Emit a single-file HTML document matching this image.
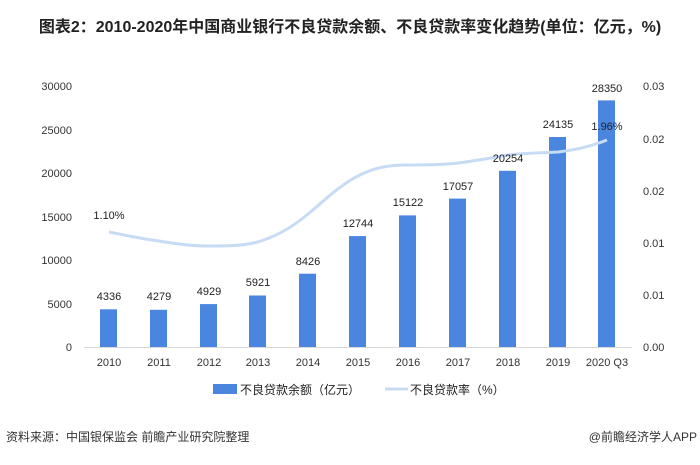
<!DOCTYPE html>
<html><head><meta charset="utf-8"><style>
body{margin:0;background:#fff;width:700px;height:460px;overflow:hidden;font-family:"Liberation Sans","Noto Sans CJK SC",sans-serif}
</style></head><body>
<svg width="700" height="460" xmlns="http://www.w3.org/2000/svg" font-family="Liberation Sans, Noto Sans CJK SC, sans-serif">
<text x="350" y="32" text-anchor="middle" font-size="16" font-weight="bold" fill="#222">图表2：2010-2020年中国商业银行不良贷款余额、不良贷款率变化趋势(单位：亿元，%)</text>
<g font-size="11" fill="#333" text-anchor="end">
<text x="72" y="351">0</text><text x="72" y="308">5000</text><text x="72" y="264">10000</text>
<text x="72" y="221">15000</text><text x="72" y="177">20000</text><text x="72" y="134">25000</text><text x="72" y="90">30000</text>
</g>
<g font-size="11" fill="#333">
<text x="643" y="351">0.00</text><text x="643" y="299">0.01</text><text x="643" y="247">0.01</text>
<text x="643" y="195">0.02</text><text x="643" y="143">0.02</text><text x="643" y="90">0.03</text>
</g>
<line x1="84" y1="347.5" x2="632" y2="347.5" stroke="#d9d9d9"/>
<g fill="#4a86e0">
<rect x="100" y="309.3" width="17" height="37.7"/>
<rect x="150" y="309.8" width="17" height="37.2"/>
<rect x="200" y="304.1" width="17" height="42.9"/>
<rect x="249" y="295.5" width="17" height="51.5"/>
<rect x="299" y="273.7" width="17" height="73.3"/>
<rect x="349" y="236.1" width="17" height="110.9"/>
<rect x="399" y="215.4" width="17" height="131.6"/>
<rect x="449" y="198.6" width="17" height="148.4"/>
<rect x="499" y="170.8" width="17" height="176.2"/>
<rect x="549" y="137.0" width="17" height="210.0"/>
<rect x="598" y="100.4" width="17" height="246.6"/>
</g>
<path d="M109,232 C125,235 142,239 159,241 C176,244 192,246 209,246 C226,246 242,246 258,242 C280,235 295,225 308,214 C325,200 340,185 358,176 C375,167 390,165 408,165 C425,165 442,165 458,163 C475,161 490,158 508,155 C525,153 542,153 558,152 C575,150 592,146 607,140" fill="none" stroke="#c7dcf4" stroke-width="3"/>
<g font-size="11" fill="#222" text-anchor="middle">
<text x="109" y="300">4336</text><text x="159" y="300">4279</text><text x="209" y="295">4929</text>
<text x="258" y="286">5921</text><text x="308" y="265">8426</text><text x="358" y="227">12744</text>
<text x="408" y="206">15122</text><text x="458" y="190">17057</text><text x="508" y="162">20254</text>
<text x="558" y="128">24135</text><text x="607" y="92">28350</text>
<text x="109" y="219">1.10%</text><text x="607" y="130">1.96%</text>
</g>
<g font-size="11" fill="#333" text-anchor="middle">
<text x="109" y="366">2010</text><text x="159" y="366">2011</text><text x="209" y="366">2012</text>
<text x="258" y="366">2013</text><text x="308" y="366">2014</text><text x="358" y="366">2015</text>
<text x="408" y="366">2016</text><text x="458" y="366">2017</text><text x="508" y="366">2018</text>
<text x="558" y="366">2019</text><text x="607" y="366">2020 Q3</text>
</g>
<rect x="213" y="384" width="24" height="10" fill="#4a86e0"/>
<text x="240" y="394" font-size="12" fill="#222">不良贷款余额（亿元）</text>
<line x1="385" y1="389" x2="408" y2="389" stroke="#c7dcf4" stroke-width="3"/>
<text x="410" y="394" font-size="12" fill="#222">不良贷款率（%）</text>
<text x="6" y="441" font-size="12" fill="#333">资料来源：中国银保监会 前瞻产业研究院整理</text>
<text x="697" y="441" font-size="12" fill="#333" text-anchor="end">@前瞻经济学人APP</text>
</svg>
</body></html>
